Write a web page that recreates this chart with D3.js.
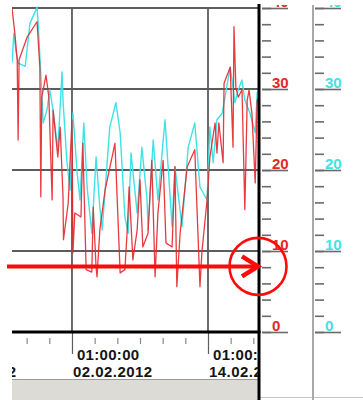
<!DOCTYPE html>
<html>
<head>
<meta charset="utf-8">
<script src="https://cdn.jsdelivr.net/npm/d3@7"></script>
<style>
  html, body { margin: 0; padding: 0; background: #fff; }
  svg { display: block; font-family: "Liberation Sans", Arial, sans-serif; }
</style>
</head>
<body>
<svg id="chart" width="363" height="400"></svg>
<script>
// red series (left scale)
const redTimes = [
  "2012-01-27 18:00","2012-01-28 00:00","2012-01-28 05:00","2012-01-28 07:00","2012-01-28 09:00",
  "2012-01-29 02:00","2012-01-29 23:00","2012-01-30 05:00","2012-01-30 07:00","2012-01-30 09:00",
  "2012-01-30 18:00","2012-01-31 00:00","2012-01-31 07:00","2012-01-31 09:00","2012-01-31 19:00",
  "2012-02-01 00:00","2012-02-01 06:00","2012-02-01 07:00","2012-02-01 17:00","2012-02-02 01:00",
  "2012-02-02 03:00","2012-02-02 07:00","2012-02-02 20:00","2012-02-03 00:00","2012-02-03 07:00",
  "2012-02-03 19:00","2012-02-03 22:00","2012-02-04 04:00","2012-02-04 06:00","2012-02-04 12:00",
  "2012-02-04 23:00","2012-02-05 20:00","2012-02-06 07:00","2012-02-06 17:00","2012-02-06 22:00",
  "2012-02-07 02:00","2012-02-07 10:00","2012-02-07 19:00","2012-02-08 01:00","2012-02-08 07:00",
  "2012-02-08 18:00","2012-02-09 02:00","2012-02-09 09:00","2012-02-09 15:00","2012-02-10 02:00",
  "2012-02-10 08:00","2012-02-10 21:00","2012-02-11 03:00","2012-02-11 07:00","2012-02-11 14:00",
  "2012-02-12 05:00","2012-02-12 21:00","2012-02-13 08:00","2012-02-13 12:00","2012-02-13 23:00",
  "2012-02-14 05:00","2012-02-14 16:00","2012-02-14 20:00","2012-02-15 00:00","2012-02-15 09:00",
  "2012-02-15 11:00","2012-02-16 00:00","2012-02-16 06:00","2012-02-16 08:00","2012-02-16 12:00",
  "2012-02-16 17:00","2012-02-17 01:00","2012-02-17 07:00","2012-02-17 12:00","2012-02-17 16:00",
  "2012-02-17 22:00","2012-02-18 05:00","2012-02-18 09:00","2012-02-18 13:00"
];
const redValues = [
  40.0, 36.9, 33.6, 23.7, 33.6,
  36.4, 38.3, 32.7, 16.7, 29.0,
  31.7, 29.0, 16.3, 27.4, 21.6,
  25.3, 16.7, 11.4, 15.9, 26.2,
  9.8, 14.7, 14.2, 23.3, 7.7,
  7.4, 15.4, 8.0, 6.8, 12.6,
  17.5, 23.3, 7.3, 7.7, 12.6,
  17.9, 8.9, 12.6, 18.8, 10.5,
  12.2, 21.2, 6.8, 14.7, 21.2,
  11.0, 10.5, 20.4, 5.6, 12.2,
  20.4, 22.5, 5.6, 9.8, 16.3,
  21.6, 25.8, 22.1, 25.8, 20.9,
  30.7, 32.7, 22.8, 37.7, 30.2,
  29.0, 29.9, 15.1, 28.6, 29.9,
  27.0, 18.4, 28.6, 29.0
];

// cyan series (right scale)
const cyanTimes = [
  "2012-01-27 18:00","2012-01-27 22:00","2012-01-28 02:00","2012-01-28 07:00","2012-01-28 22:00",
  "2012-01-29 08:00","2012-01-29 23:00","2012-01-30 01:00","2012-01-30 09:00","2012-01-30 12:00",
  "2012-01-30 20:00","2012-01-31 02:00","2012-01-31 09:00","2012-01-31 19:00","2012-02-01 04:00",
  "2012-02-01 06:00","2012-02-01 14:00","2012-02-01 21:00","2012-02-02 03:00","2012-02-02 12:00",
  "2012-02-02 18:00","2012-02-03 02:00","2012-02-03 09:00","2012-02-03 19:00","2012-02-04 04:00",
  "2012-02-04 12:00","2012-02-04 17:00","2012-02-05 09:00","2012-02-05 22:00","2012-02-06 07:00",
  "2012-02-06 17:00","2012-02-07 00:00","2012-02-07 06:00","2012-02-07 19:00","2012-02-08 05:00",
  "2012-02-08 16:00","2012-02-08 18:00","2012-02-09 05:00","2012-02-09 15:00","2012-02-10 06:00",
  "2012-02-10 21:00","2012-02-11 03:00","2012-02-11 18:00","2012-02-12 07:00","2012-02-12 21:00",
  "2012-02-13 08:00","2012-02-13 23:00","2012-02-14 05:00","2012-02-14 12:00","2012-02-14 20:00",
  "2012-02-15 07:00","2012-02-16 00:00","2012-02-16 04:00","2012-02-16 10:00","2012-02-16 17:00",
  "2012-02-17 01:00","2012-02-17 07:00","2012-02-17 18:00","2012-02-18 05:00","2012-02-18 09:00",
  "2012-02-18 13:00"
];
const cyanValues = [
  33.2, 36.9, 34.8, 33.2, 32.8,
  38.1, 40.1, 38.5, 29.5, 25.8,
  27.4, 29.9, 27.4, 22.5, 32.1,
  28.6, 21.2, 17.5, 27.0, 19.6,
  16.3, 25.8, 17.9, 12.2, 21.6,
  15.4, 12.6, 25.3, 28.3, 24.6,
  14.2, 12.2, 22.1, 14.7, 22.8,
  16.3, 12.6, 23.7, 16.3, 26.2,
  13.0, 20.4, 13.0, 22.8, 25.8,
  17.9, 16.3, 25.3, 20.9, 26.2,
  27.0, 32.7, 31.1, 28.3, 29.9,
  31.1, 28.6, 27.0, 24.6, 29.5,
  29.9
];

const majorLabelTimes = ["2012-01-21 01:00", "2012-02-02 01:00", "2012-02-14 01:00"];
const xViewStart = "2012-01-27 18:00";
const xViewEnd = "2012-02-18 13:00";
const yTicksMajor = [0, 10, 20, 30, 40];
const yTicksMinor = d3.range(0, 41, 2);

const parse = d3.timeParse("%Y-%m-%d %H:%M");
const fmtTime = d3.timeFormat("%H:%M:%S");
const fmtDate = d3.timeFormat("%d.%m.%Y");

const RED = "#e5262b";
const CYAN = "#3ee3e6";
const GRID = "#5c5c5c";

const plotLeft = 12, plotRight = 259, plotTop = 8, plotBottom = 332;

const svg = d3.select("#chart");

const x = d3.scaleTime()
  .domain([parse(xViewStart), parse(xViewEnd)])
  .range([plotLeft, plotRight]);
const y = d3.scaleLinear().domain([0, 40]).range([plotBottom, plotTop]);

const defs = svg.append("defs");
defs.append("clipPath").attr("id", "plotClip")
  .append("rect").attr("x", plotLeft).attr("y", 4).attr("width", plotRight - plotLeft).attr("height", plotBottom - 4);
defs.append("clipPath").attr("id", "xlabClip")
  .append("rect").attr("x", plotLeft).attr("y", 332).attr("width", plotRight - plotLeft - 1).attr("height", 60);
defs.append("clipPath").attr("id", "topClip")
  .append("rect").attr("x", 0).attr("y", 5).attr("width", 363).attr("height", 395);

// bottom scroll strip
svg.append("rect").attr("x", plotLeft).attr("y", 379).attr("width", plotRight - plotLeft).attr("height", 21)
  .attr("fill", "#dddbd6");
svg.append("line").attr("x1", plotLeft).attr("x2", plotRight).attr("y1", 379.5).attr("y2", 379.5)
  .attr("stroke", "#9a9a9a").attr("stroke-width", 1);
svg.append("line").attr("x1", plotRight).attr("x2", 363).attr("y1", 397.5).attr("y2", 397.5)
  .attr("stroke", "#c8c8c8").attr("stroke-width", 1);

// grid
const grid = svg.append("g").attr("clip-path", "url(#plotClip)");
grid.selectAll("line.h").data(yTicksMajor.filter(d => d > 0)).join("line")
  .attr("x1", plotLeft).attr("x2", plotRight)
  .attr("y1", d => y(d)).attr("y2", d => y(d))
  .attr("stroke", GRID).attr("stroke-width", 1.8);
grid.selectAll("line.v").data(majorLabelTimes.map(parse)).join("line")
  .attr("x1", d => x(d)).attr("x2", d => x(d))
  .attr("y1", plotTop).attr("y2", plotBottom)
  .attr("stroke", GRID).attr("stroke-width", 1.8);

// series
const lineOf = (times, values) => d3.line()
  .x((d, i) => x(parse(times[i])))
  .y(d => y(d))(values);

const plot = svg.append("g").attr("clip-path", "url(#plotClip)");
plot.append("path").attr("d", lineOf(cyanTimes, cyanValues))
  .attr("fill", "none").attr("stroke", CYAN).attr("stroke-width", 1.4).attr("stroke-linejoin", "round");
plot.append("path").attr("d", lineOf(redTimes, redValues))
  .attr("fill", "none").attr("stroke", RED).attr("stroke-width", 1.3).attr("stroke-linejoin", "round")
  .attr("stroke-opacity", 0.9);

// x axis
const minorTimes = d3.range(-4, 9).map(k => d3.timeDay.offset(parse(majorLabelTimes[1]), k * 2))
  .filter(d => x(d) > plotLeft && x(d) < plotRight);
const xAxis = svg.append("g").attr("transform", `translate(0,${plotBottom})`)
  .call(d3.axisBottom(x).tickValues(minorTimes).tickSize(12).tickFormat(""));
xAxis.select(".domain").remove();
xAxis.selectAll(".tick line").attr("stroke", "#8a8a8a").attr("stroke-width", 1.2)
  .attr("y1", 6);
xAxis.selectAll(".tick").filter(d => majorLabelTimes.map(s => +parse(s)).includes(+d))
  .select("line").attr("y1", 0).attr("y2", 22).attr("stroke", GRID);

const xLabels = svg.append("g").attr("clip-path", "url(#xlabClip)")
  .selectAll("g").data(majorLabelTimes.map(parse)).join("g")
  .attr("transform", d => `translate(${x(d)},0)`)
  .attr("font-weight", "bold").attr("font-size", 15).attr("fill", "#151515");
xLabels.append("text").attr("x", 5).attr("y", 360).attr("letter-spacing", 0.3).text(d => fmtTime(d));
xLabels.append("text").attr("x", 1).attr("y", 377).attr("letter-spacing", 0.45).text(d => fmtDate(d));

svg.append("line").attr("x1", plotLeft).attr("x2", plotRight + 1.5).attr("y1", plotBottom).attr("y2", plotBottom)
  .attr("stroke", "#000").attr("stroke-width", 3);
svg.append("line").attr("x1", plotRight).attr("x2", plotRight).attr("y1", 4).attr("y2", 400)
  .attr("stroke", "#000").attr("stroke-width", 3);

// value axes
function valueAxis(x0, colour) {
  const g = svg.append("g").attr("clip-path", "url(#topClip)")
    .append("g").attr("transform", `translate(${x0},0)`);
  const minor = g.append("g")
    .call(d3.axisRight(y).tickValues(yTicksMinor).tickSize(9).tickFormat(""));
  minor.select(".domain").remove();
  minor.selectAll(".tick line").attr("stroke", "#6a6a6a").attr("stroke-width", 1.6);
  const major = g.append("g")
    .call(d3.axisRight(y).tickValues(yTicksMajor).tickSize(26).tickPadding(0));
  major.select(".domain").remove();
  major.selectAll(".tick line").attr("stroke", "#6a6a6a").attr("stroke-width", 1.6);
  major.selectAll(".tick text")
    .attr("x", 10).attr("dy", null).attr("y", -1.5)
    .attr("fill", colour).attr("font-weight", "bold").attr("font-size", 15)
    .attr("font-family", "'Liberation Sans', Arial, sans-serif");
}
valueAxis(262, RED);
svg.append("line").attr("x1", 313).attr("x2", 313).attr("y1", 5).attr("y2", 400)
  .attr("stroke", "#a8a8a8").attr("stroke-width", 2);
valueAxis(315, CYAN);

// annotation arrow
const yArrow = y(8.1);
const ann = svg.append("g").attr("stroke", "#ff0a0a").attr("fill", "none");
ann.append("line").attr("x1", 7).attr("x2", 255).attr("y1", yArrow).attr("y2", yArrow)
  .attr("stroke-width", 4);
ann.append("path")
  .attr("d", `M242,${yArrow - 10} L258,${yArrow} L242,${yArrow + 10}`)
  .attr("stroke-width", 4.5).attr("stroke-linejoin", "miter");
ann.append("circle").attr("cx", 258).attr("cy", yArrow).attr("r", 28.5)
  .attr("stroke-width", 2.6);
</script>
</body>
</html>
